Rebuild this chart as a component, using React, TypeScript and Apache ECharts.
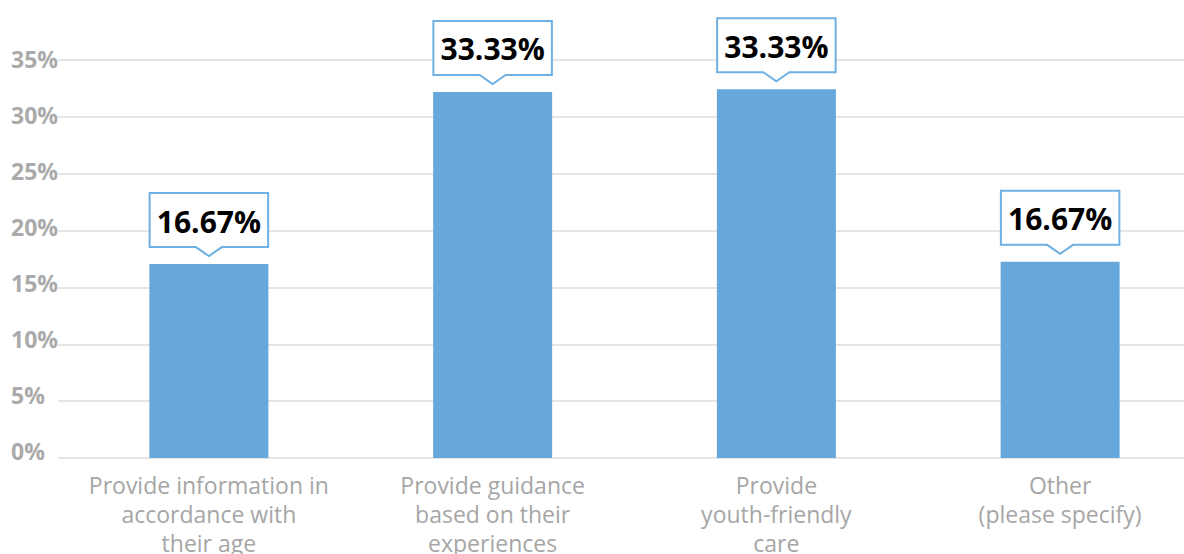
import React, { useEffect, useRef } from "react";
import * as echarts from "echarts";

const categories = [
  "Provide information in\naccordance with\ntheir age",
  "Provide guidance\nbased on their\nexperiences",
  "Provide\nyouth-friendly\ncare",
  "Other\n(please specify)",
];
// bar heights as drawn (percent)
const barValues = [17.05, 32.19, 32.43, 17.25];
// values printed in the callouts
const labelValues = [16.67, 33.33, 33.33, 16.67];
const yTicks = [0, 5, 10, 15, 20, 25, 30, 35];

const FONT = "'Open Sans', 'Noto Sans', sans-serif";
const BAR_COLOR = "#66a8db";
const BORDER_COLOR = "#6fb0e2";

export default function App() {
  const ref = useRef<HTMLDivElement>(null);
  useEffect(() => {
    if (!ref.current) return;
    const chart = echarts.init(ref.current, undefined, { renderer: "svg" });
    const yMax = yTicks[yTicks.length - 1];
    const option: any = {
      animation: false,
      grid: [
        // labels grid
        { left: 58, right: 0, top: 58.7, bottom: 103, containLabel: false, outerBoundsMode: "none" },
        // gridlines grid
        { left: 58, right: 0, top: 60, bottom: 96, containLabel: false, outerBoundsMode: "none" },
        // bars grid
        { left: 67, width: 1135, top: 60, bottom: 96, containLabel: false, outerBoundsMode: "none" },
      ],
      xAxis: [
        { gridIndex: 0, type: "category", data: categories, show: false },
        { gridIndex: 1, type: "category", data: categories, show: false },
        {
          gridIndex: 2,
          type: "category",
          data: categories,
          axisLine: { show: false },
          axisTick: { show: false },
          axisLabel: {
            interval: 0,
            margin: 12,
            color: "#a6a6a6",
            fontSize: 23,
            lineHeight: 29,
            fontFamily: FONT,
            fontWeight: 400,
          },
        },
      ],
      yAxis: [
        {
          gridIndex: 0,
          type: "value",
          min: 0,
          max: yMax,
          interval: 5,
          axisLine: { show: false },
          axisTick: { show: false },
          splitLine: { show: false },
          axisLabel: {
            formatter: "{value}%",
            align: "left",
            margin: 47,
            color: "#aaaaaa",
            fontSize: 23,
            fontWeight: 700,
            fontFamily: FONT,
          },
        },
        {
          gridIndex: 1,
          type: "value",
          min: 0,
          max: yMax,
          interval: 5,
          axisLine: { show: false },
          axisTick: { show: false },
          axisLabel: { show: false },
          splitLine: { show: true, lineStyle: { color: "#dddddd", width: 1.5 } },
        },
        {
          gridIndex: 2,
          type: "value",
          min: 0,
          max: yMax,
          interval: 5,
          show: false,
        },
      ],
      series: [
        {
          type: "bar",
          xAxisIndex: 2,
          yAxisIndex: 2,
          data: barValues,
          barWidth: 119,
          itemStyle: { color: BAR_COLOR },
        },
        {
          type: "custom",
          xAxisIndex: 2,
          yAxisIndex: 2,
          clip: false,
          z: 10,
          data: barValues.map((v, i) => [i, v, labelValues[i]]),
          renderItem: (params: any, api: any) => {
            const idx = api.value(0);
            const val = api.value(1);
            const lab = api.value(2);
            const p = api.coord([idx, val]);
            const cx = p[0];
            const w = 118.5;
            const h = 54;
            const bottom = p[1] - 17;
            const top = bottom - h;
            const x0 = cx - w / 2;
            const x1 = cx + w / 2;
            const tipHalf = 13;
            const tipDepth = 9;
            return {
              type: "group",
              children: [
                {
                  type: "polygon",
                  shape: {
                    points: [
                      [x0, top],
                      [x1, top],
                      [x1, bottom],
                      [cx + tipHalf, bottom],
                      [cx, bottom + tipDepth],
                      [cx - tipHalf, bottom],
                      [x0, bottom],
                    ],
                  },
                  style: { fill: "#ffffff", stroke: BORDER_COLOR, lineWidth: 2 },
                },
                {
                  type: "text",
                  style: {
                    text: Number(lab).toFixed(2) + "%",
                    x: cx,
                    y: (top + bottom) / 2 + 1,
                    align: "center",
                    verticalAlign: "middle",
                    textAlign: "center",
                    textVerticalAlign: "middle",
                    fill: "#000000",
                    fontSize: 30,
                    fontWeight: 700,
                    fontFamily: FONT,
                  },
                },
              ],
            };
          },
        },
      ],
    };
    chart.setOption(option);
    return () => chart.dispose();
  }, []);
  return (
    <div
      ref={ref}
      style={{ position: "fixed", left: 0, top: 0, width: 1184, height: 554, background: "#ffffff" }}
    />
  );
}
